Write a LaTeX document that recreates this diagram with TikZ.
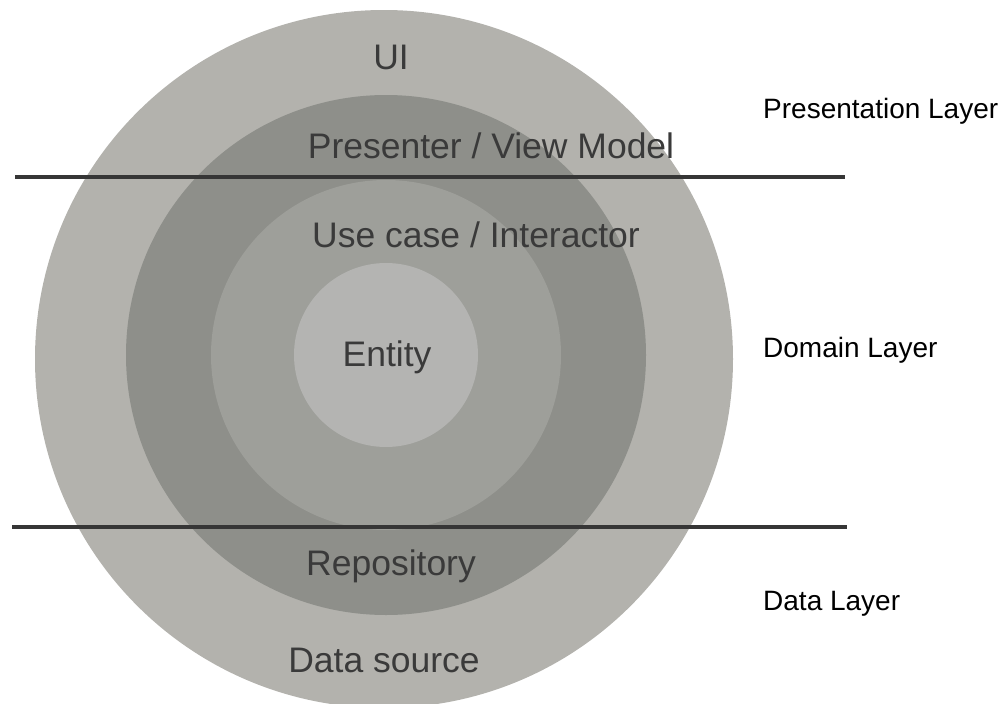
\documentclass[tikz,border=0pt]{standalone}
\usepackage{fontspec}
\setmainfont{Liberation Sans}
\usepackage{tikz}
\usetikzlibrary{calc, positioning}
\definecolor{ringOuter}{HTML}{B3B2AD}
\definecolor{ringPresenter}{HTML}{8E8F8A}
\definecolor{ringUseCase}{HTML}{9E9F9A}
\definecolor{ringEntity}{HTML}{B4B4B2}
\definecolor{labelGray}{HTML}{3A3A3A}
\definecolor{dividerGray}{HTML}{363636}
\tikzset{
  ringlabel/.style={anchor=base, inner sep=0pt, text=labelGray, font=\fontsize{35.5}{40}\selectfont},
  layerlabel/.style={anchor=base west, inner sep=0pt, text=black, font=\fontsize{28}{33}\selectfont},
  divider/.style={draw=dividerGray, line width=4pt}
}
\newcommand{\drawRing}[3]{
  \fill[#1] (#2) circle (#3pt);
}

\begin{document}
\begin{tikzpicture}[x=1pt, y=-1pt]
  \useasboundingbox (0,0) rectangle (1005,704);
  \coordinate (Outer) at (384,359);
  \coordinate (Core) at (386,355);
  % rings, outside in
  \drawRing{ringOuter}{Outer}{349}
  \drawRing{ringPresenter}{Core}{260}
  \drawRing{ringUseCase}{Core}{175}
  \drawRing{ringEntity}{Core}{92}
  % ring labels
  \node[ringlabel] (ui) at (391,69) {UI};
  \node[ringlabel] (presenter) at (491,158) {Presenter / View Model};
  \node[ringlabel] (usecase) at (476,247) {Use case / Interactor};
  \node[ringlabel] (entity) at (387,366) {Entity};
  \node[ringlabel] (repository) at (391,575) {Repository};
  \node[ringlabel] (datasource) at (384,672) {Data source};
  % layer borders
  \coordinate (TopL) at (15,177);
  \coordinate (TopR) at (845,177);
  \coordinate (BotL) at (12,527);
  \coordinate (BotR) at (847,527);
  \draw[divider] (TopL) -- (TopR);
  \draw[divider] (BotL) -- (BotR);
  % layer names
  \node[layerlabel] (presentation) at (763,118) {Presentation Layer};
  \node[layerlabel] (domain) at (763,357) {Domain Layer};
  \node[layerlabel] (data) at (763,610) {Data Layer};
\end{tikzpicture}
\end{document}
